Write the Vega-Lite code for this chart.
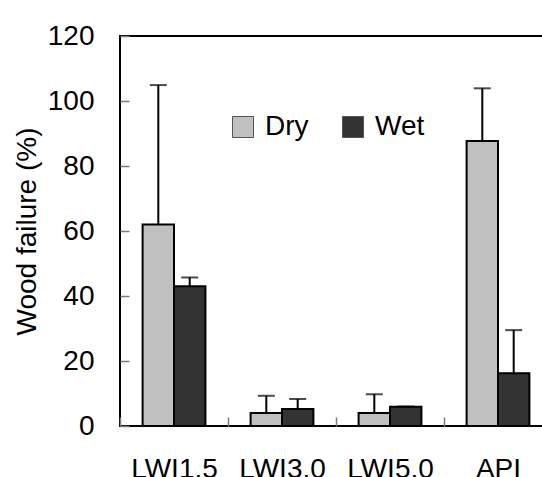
{
  "$schema": "https://vega.github.io/schema/vega-lite/v6.json",
  "width": 432,
  "height": 390,
  "autosize": {"type": "none"},
  "padding": {"left": 120, "top": 36, "right": 0, "bottom": 51},
  "config": {
    "view": {"stroke": "black", "strokeWidth": 2},
    "font": "Liberation Sans"
  },
  "data": {
    "values": [
      {"group": "LWI1.5", "condition": "Dry", "value": 62.0, "upper": 104.9},
      {"group": "LWI1.5", "condition": "Wet", "value": 43.0, "upper": 45.7},
      {"group": "LWI3.0", "condition": "Dry", "value": 4.0, "upper": 9.3},
      {"group": "LWI3.0", "condition": "Wet", "value": 5.2, "upper": 8.3},
      {"group": "LWI5.0", "condition": "Dry", "value": 4.0, "upper": 9.8},
      {"group": "LWI5.0", "condition": "Wet", "value": 5.9, "upper": 6.0},
      {"group": "API", "condition": "Dry", "value": 87.7, "upper": 103.9},
      {"group": "API", "condition": "Wet", "value": 16.2, "upper": 29.5}
    ]
  },
  "encoding": {
    "x": {
      "field": "group",
      "type": "nominal",
      "sort": ["LWI1.5", "LWI3.0", "LWI5.0", "API"],
      "scale": {"paddingInner": 0, "paddingOuter": 0},
      "axis": {
        "title": null,
        "offset": -9,
        "domain": false,
        "labelAngle": 0,
        "labelFontSize": 28,
        "labelColor": "black",
        "labelPadding": 29,
        "ticks": true,
        "tickBand": "extent",
        "tickSize": 9,
        "tickColor": "#7a7a7a",
        "tickWidth": 1.5
      }
    },
    "xOffset": {
      "field": "condition",
      "type": "nominal",
      "sort": ["Dry", "Wet"],
      "scale": {"paddingOuter": 0.72, "paddingInner": 0}
    }
  },
  "layer": [
    {
      "mark": {"type": "bar", "stroke": "black", "strokeWidth": 2},
      "encoding": {
        "y": {
          "field": "value",
          "type": "quantitative",
          "title": "Wood failure (%)",
          "scale": {"domain": [0, 120], "nice": false},
          "axis": {
            "offset": -9,
            "domain": false,
            "values": [0, 20, 40, 60, 80, 100, 120],
            "grid": false,
            "ticks": true,
            "tickSize": 9,
            "tickColor": "#7a7a7a",
            "tickWidth": 1.5,
            "labelFontSize": 28,
            "labelColor": "black",
            "labelPadding": 26,
            "titleFontSize": 28,
            "titleFontWeight": "normal",
            "titleColor": "black",
            "titleX": -94,
            "titleY": 195,
            "titleAngle": -90,
            "titleBaseline": "alphabetic",
            "titleAlign": "center"
          }
        },
        "fill": {
          "field": "condition",
          "type": "nominal",
          "scale": {"domain": ["Dry", "Wet"], "range": ["#C0C0C0", "#333333"]},
          "legend": {
            "title": null,
            "orient": "none",
            "legendX": 109,
            "legendY": 77,
            "direction": "horizontal",
            "padding": 0,
            "symbolType": "square",
            "symbolSize": 441,
            "symbolStrokeColor": "#555555",
            "symbolStrokeWidth": 1,
            "labelFontSize": 28,
            "labelColor": "black",
            "labelOffset": 8,
            "columnPadding": 30
          }
        }
      }
    },
    {
      "mark": {"type": "rule", "strokeWidth": 2, "color": "black"},
      "encoding": {
        "y": {"field": "value", "type": "quantitative", "title": "Wood failure (%)"},
        "y2": {"field": "upper"}
      }
    },
    {
      "mark": {"type": "tick", "orient": "horizontal", "size": 17, "thickness": 2, "color": "black"},
      "encoding": {
        "y": {"field": "upper", "type": "quantitative", "title": "Wood failure (%)"}
      }
    }
  ]
}
